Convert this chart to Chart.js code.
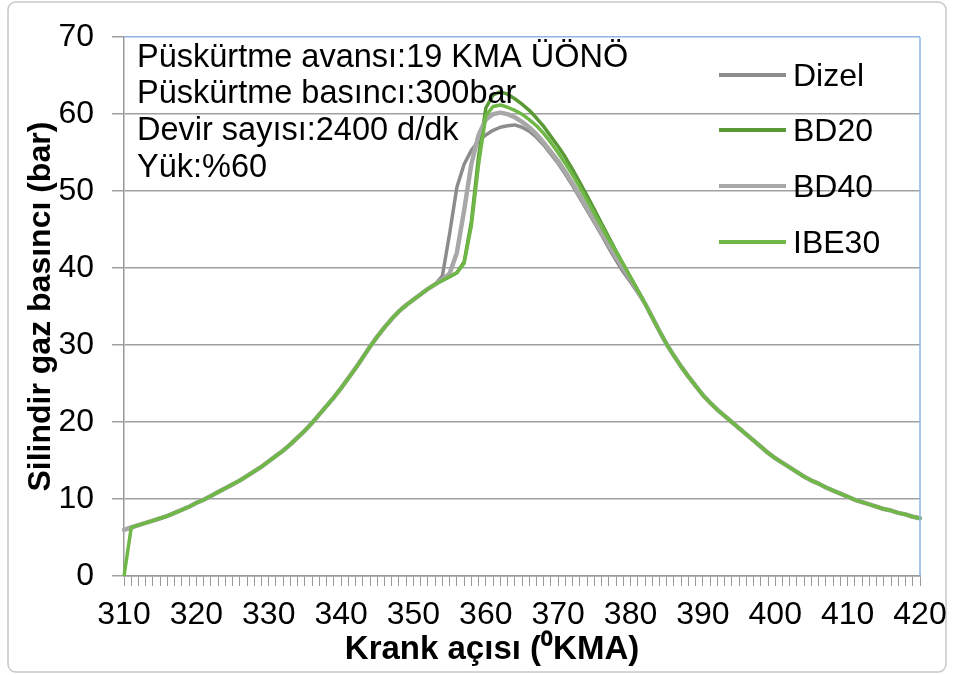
<!DOCTYPE html>
<html>
<head>
<meta charset="utf-8">
<script src="https://cdn.jsdelivr.net/npm/chart.js@4.4.1/dist/chart.umd.min.js"></script>
<style>
  body { margin: 0; background: #fff; }
  canvas { display: block; }
</style>
</head>
<body>
<canvas id="silindirChart" width="953" height="675"></canvas>
<script>
// Krank açısı (KMA)
const krankAcisi = [
  310, 311, 312, 313, 314, 315, 316, 317, 318, 319,
  320, 321, 322, 323, 324, 325, 326, 327, 328, 329,
  330, 331, 332, 333, 334, 335, 336, 337, 338, 339,
  340, 341, 342, 343, 344, 345, 346, 347, 348, 349,
  350, 351, 352, 353, 354, 355, 356, 357, 358, 359,
  360, 361, 362, 363, 364, 365, 366, 367, 368, 369,
  370, 371, 372, 373, 374, 375, 376, 377, 378, 379,
  380, 381, 382, 383, 384, 385, 386, 387, 388, 389,
  390, 391, 392, 393, 394, 395, 396, 397, 398, 399,
  400, 401, 402, 403, 404, 405, 406, 407, 408, 409,
  410, 411, 412, 413, 414, 415, 416, 417, 418, 419, 420
];

const dizel = [
  6.0, 6.3, 6.6, 6.9, 7.2, 7.5, 7.8, 8.2, 8.6, 9.0,
  9.5, 9.9, 10.4, 10.9, 11.4, 11.9, 12.4, 13.0, 13.6, 14.2,
  14.9, 15.6, 16.3, 17.1, 18.0, 18.9, 19.9, 21.0, 22.1, 23.2,
  24.4, 25.7, 27.0, 28.4, 29.8, 31.1, 32.3, 33.4, 34.4, 35.2,
  35.9, 36.6, 37.3, 37.9, 39.0, 44.5, 50.5, 53.5, 55.3, 56.5,
  57.3, 57.9, 58.3, 58.5, 58.6, 58.3, 57.8, 57.0, 56.0, 54.8,
  53.6, 52.2, 50.7, 49.1, 47.5, 45.9, 44.3, 42.6, 41.0, 39.5,
  38.2, 36.8, 35.4, 33.6, 31.8, 30.1, 28.6, 27.2, 25.9, 24.7,
  23.5, 22.5, 21.6, 20.8, 20.0, 19.2, 18.4, 17.6, 16.8, 16.0,
  15.3, 14.7, 14.1, 13.5, 12.9, 12.4, 12.0, 11.5, 11.1, 10.7,
  10.3, 9.9, 9.6, 9.3, 9.0, 8.7, 8.5, 8.2, 8.0, 7.7, 7.5
];

const bd20 = [
  6.0, 6.3, 6.6, 6.9, 7.2, 7.5, 7.8, 8.2, 8.6, 9.0,
  9.5, 9.9, 10.4, 10.9, 11.4, 11.9, 12.4, 13.0, 13.6, 14.2,
  14.9, 15.6, 16.3, 17.1, 18.0, 18.9, 19.9, 21.0, 22.1, 23.2,
  24.4, 25.7, 27.0, 28.4, 29.8, 31.1, 32.3, 33.4, 34.4, 35.2,
  35.9, 36.6, 37.3, 37.9, 38.4, 38.9, 39.4, 40.8, 46.0, 54.5,
  60.8, 62.5, 62.9, 62.6, 62.0, 61.3, 60.5, 59.5, 58.4, 57.1,
  55.8, 54.4, 52.8, 51.1, 49.4, 47.6, 45.8, 44.0, 42.2, 40.5,
  38.8, 37.1, 35.4, 33.6, 31.8, 30.1, 28.6, 27.2, 25.9, 24.7,
  23.5, 22.5, 21.6, 20.8, 20.0, 19.2, 18.4, 17.6, 16.8, 16.0,
  15.3, 14.7, 14.1, 13.5, 12.9, 12.4, 12.0, 11.5, 11.1, 10.7,
  10.3, 9.9, 9.6, 9.3, 9.0, 8.7, 8.5, 8.2, 8.0, 7.7, 7.5
];

const bd40 = [
  6.0, 6.3, 6.6, 6.9, 7.2, 7.5, 7.8, 8.2, 8.6, 9.0,
  9.5, 9.9, 10.4, 10.9, 11.4, 11.9, 12.4, 13.0, 13.6, 14.2,
  14.9, 15.6, 16.3, 17.1, 18.0, 18.9, 19.9, 21.0, 22.1, 23.2,
  24.4, 25.7, 27.0, 28.4, 29.8, 31.1, 32.3, 33.4, 34.4, 35.2,
  35.9, 36.6, 37.3, 37.9, 38.5, 39.3, 42.0, 47.5, 53.5, 57.3,
  59.3, 60.0, 60.2, 60.0, 59.6, 59.0, 58.3, 57.4, 56.3, 55.1,
  53.9, 52.5, 51.0, 49.4, 47.8, 46.2, 44.6, 43.0, 41.4, 40.0,
  38.6, 37.0, 35.4, 33.6, 31.8, 30.1, 28.6, 27.2, 25.9, 24.7,
  23.5, 22.5, 21.6, 20.8, 20.0, 19.2, 18.4, 17.6, 16.8, 16.0,
  15.3, 14.7, 14.1, 13.5, 12.9, 12.4, 12.0, 11.5, 11.1, 10.7,
  10.3, 9.9, 9.6, 9.3, 9.0, 8.7, 8.5, 8.2, 8.0, 7.7, 7.5
];

const ibe30 = [
  0.0, 6.3, 6.6, 6.9, 7.2, 7.5, 7.8, 8.2, 8.6, 9.0,
  9.5, 9.9, 10.4, 10.9, 11.4, 11.9, 12.4, 13.0, 13.6, 14.2,
  14.9, 15.6, 16.3, 17.1, 18.0, 18.9, 19.9, 21.0, 22.1, 23.2,
  24.4, 25.7, 27.0, 28.4, 29.8, 31.1, 32.3, 33.4, 34.4, 35.2,
  35.9, 36.6, 37.3, 37.9, 38.4, 38.9, 39.4, 40.6, 45.5, 53.5,
  59.8, 61.0, 61.2, 60.9, 60.5, 60.0, 59.3, 58.5, 57.5, 56.3,
  55.0, 53.6, 52.1, 50.5, 48.8, 47.1, 45.4, 43.7, 42.1, 40.5,
  38.8, 37.1, 35.4, 33.6, 31.8, 30.1, 28.6, 27.2, 25.9, 24.7,
  23.5, 22.5, 21.6, 20.8, 20.0, 19.2, 18.4, 17.6, 16.8, 16.0,
  15.3, 14.7, 14.1, 13.5, 12.9, 12.4, 12.0, 11.5, 11.1, 10.7,
  10.3, 9.9, 9.6, 9.3, 9.0, 8.7, 8.5, 8.2, 8.0, 7.7, 7.5
];

const notlar = [
  'Püskürtme avansı:19 KMA ÜÖNÖ',
  'Püskürtme basıncı:300bar',
  'Devir sayısı:2400 d/dk',
  'Yük:%60'
];

const xBaslik = 'Krank açısı (⁰KMA)';

const FONT = "'Liberation Sans', Arial, sans-serif";

/**
 * Çerçeve, sağ kenar, x başlığı, açıklama yazıları ve lejant
 */
const ekstraCizim = {
  id: 'ekstraCizim',
  beforeDraw(chart) {
    const ctx = chart.ctx;
    ctx.save();
    ctx.strokeStyle = '#c8c8c8';
    ctx.lineWidth = 1.5;
    ctx.beginPath();
    ctx.roundRect(8, 2, 938, 670, 8);
    ctx.stroke();
    ctx.restore();
  },
  afterDraw(chart) {
    const ctx = chart.ctx;
    const area = chart.chartArea;
    ctx.save();

    // sağ kenar
    ctx.strokeStyle = '#8db4e2';
    ctx.lineWidth = 1.5;
    ctx.beginPath();
    ctx.moveTo(area.right, area.top);
    ctx.lineTo(area.right, area.bottom);
    ctx.stroke();

    // x ekseni başlığı
    ctx.fillStyle = '#000';
    ctx.font = 'bold 33px ' + FONT;
    ctx.textAlign = 'center';
    ctx.textBaseline = 'middle';
    ctx.fillText(xBaslik, 492, 650);

    // açıklama yazıları
    ctx.textAlign = 'left';
    ctx.textBaseline = 'alphabetic';
    ctx.font = '32.5px ' + FONT;
    notlar.forEach((satir, i) => {
      ctx.fillText(satir, 137, 66.5 + i * 36.7);
    });

    // lejant
    const lejantY = [75, 130, 186, 242];
    chart.data.datasets.forEach((ds, i) => {
      const y = lejantY[i];
      ctx.strokeStyle = ds.borderColor;
      ctx.lineWidth = 4;
      ctx.beginPath();
      ctx.moveTo(719, y);
      ctx.lineTo(786, y);
      ctx.stroke();
      ctx.fillStyle = '#000';
      ctx.font = '32px ' + FONT;
      ctx.fillText(ds.label, 793, y + 11);
    });
    ctx.restore();
  }
};

const ctx = document.getElementById('silindirChart');
const chart = new Chart(ctx, {
  type: 'line',
  data: {
    labels: krankAcisi,
    datasets: [
      { label: 'Dizel', data: dizel, borderColor: '#8c8c8c', borderWidth: 3.5, order: 4 },
      { label: 'BD20', data: bd20, borderColor: '#5a9a36', borderWidth: 3.5, order: 3 },
      { label: 'BD40', data: bd40, borderColor: '#a8a8a8', borderWidth: 4.5, order: 2 },
      { label: 'IBE30', data: ibe30, borderColor: '#6fb747', borderWidth: 3.5, order: 1 }
    ]
  },
  options: {
    responsive: false,
    animation: false,
    layout: { padding: { left: 8, right: 33, top: 34, bottom: 0 } },
    elements: {
      point: { radius: 0 },
      line: { tension: 0, borderCapStyle: 'round', borderJoinStyle: 'round' }
    },
    plugins: {
      legend: { display: false },
      tooltip: { enabled: false }
    },
    scales: {
      x: {
        type: 'category',
        offset: false,
        afterFit(scale) {
          scale.height = 99;
          scale.paddingLeft = 0;
          scale.paddingRight = 0;
        },
        grid: {
          offset: false,
          drawOnChartArea: false,
          drawTicks: true,
          tickLength: 10,
          tickColor: '#9a9a9a',
          lineWidth: 1
        },
        border: { color: '#9a9a9a', width: 1.5 },
        ticks: {
          autoSkip: false,
          maxRotation: 0,
          minRotation: 0,
          padding: 10,
          color: '#000',
          font: { family: FONT, size: 32 },
          callback: function (value) {
            const lbl = this.getLabelForValue(value);
            return lbl % 10 === 0 ? String(lbl) : '';
          }
        }
      },
      y: {
        min: 0,
        max: 70,
        afterFit(scale) { scale.width = 116; },
        grid: {
          color: (c) => (c.tick && c.tick.value === 70 ? '#8db4e2' : '#a0a0a0'),
          tickColor: '#a0a0a0',
          lineWidth: 1.5,
          tickLength: 12
        },
        border: { color: '#9a9a9a', width: 1.5 },
        ticks: {
          stepSize: 10,
          padding: 18,
          color: '#000',
          font: { family: FONT, size: 32 }
        },
        title: {
          display: true,
          text: 'Silindir gaz basıncı (bar)',
          color: '#000',
          font: { family: FONT, size: 32, weight: 'bold' },
          padding: { top: 14, bottom: 0 }
        }
      }
    }
  },
  plugins: [ekstraCizim]
});
</script>
</body>
</html>
